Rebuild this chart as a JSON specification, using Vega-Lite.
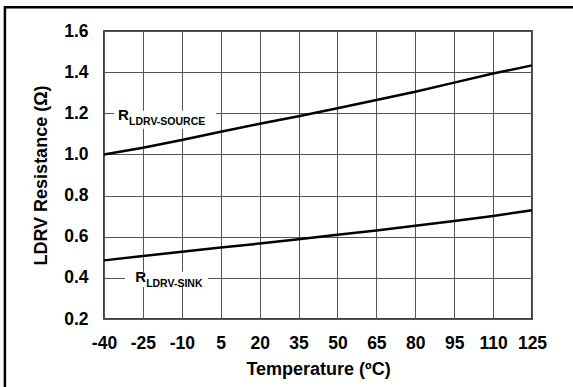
{
  "$schema": "https://vega.github.io/schema/vega-lite/v6.json",
  "autosize": {"type": "none"},
  "width": 428,
  "height": 288,
  "padding": {"left": 104, "top": 31, "right": 41, "bottom": 68},
  "background": "white",
  "config": {
    "view": {"stroke": "black", "strokeWidth": 1.5},
    "font": "Liberation Sans",
    "axis": {
      "labelFont": "Liberation Sans",
      "labelFontWeight": "bold",
      "labelFontSize": 17.5,
      "labelColor": "black",
      "titleFont": "Liberation Sans",
      "titleFontWeight": "bold",
      "titleFontSize": 18,
      "titleColor": "black",
      "grid": true,
      "gridColor": "#555555",
      "gridWidth": 1,
      "gridOpacity": 1,
      "domain": false,
      "ticks": false,
      "tickSize": 0,
      "labelOverlap": false,
      "labelBound": false,
      "labelFlush": false
    }
  },
  "datasets": {
    "curves": [
      {"series": "source", "temp": -40, "r": 1.0},
      {"series": "source", "temp": -25, "r": 1.032},
      {"series": "source", "temp": -10, "r": 1.07},
      {"series": "source", "temp": 5, "r": 1.11},
      {"series": "source", "temp": 20, "r": 1.149},
      {"series": "source", "temp": 35, "r": 1.186},
      {"series": "source", "temp": 50, "r": 1.224},
      {"series": "source", "temp": 65, "r": 1.265},
      {"series": "source", "temp": 80, "r": 1.305},
      {"series": "source", "temp": 95, "r": 1.349},
      {"series": "source", "temp": 110, "r": 1.393},
      {"series": "source", "temp": 125, "r": 1.433},
      {"series": "sink", "temp": -40, "r": 0.485},
      {"series": "sink", "temp": -25, "r": 0.506},
      {"series": "sink", "temp": -10, "r": 0.527},
      {"series": "sink", "temp": 5, "r": 0.547},
      {"series": "sink", "temp": 20, "r": 0.567},
      {"series": "sink", "temp": 35, "r": 0.588},
      {"series": "sink", "temp": 50, "r": 0.609},
      {"series": "sink", "temp": 65, "r": 0.630},
      {"series": "sink", "temp": 80, "r": 0.653},
      {"series": "sink", "temp": 95, "r": 0.676},
      {"series": "sink", "temp": 110, "r": 0.701},
      {"series": "sink", "temp": 125, "r": 0.729}
    ],
    "labels": [
      {"main": "R", "sub": "LDRV-SOURCE", "temp": -34.6, "r": 1.167, "t1": -36.1, "t2": 3.2, "r1": 1.212, "r2": 1.125},
      {"main": "R", "sub": "LDRV-SINK", "temp": -28.0, "r": 0.381, "t1": -31.9, "t2": 0.1, "r1": 0.43, "r2": 0.355}
    ]
  },
  "layer": [
    {
      "data": {"name": "labels"},
      "mark": {"type": "rect", "fill": "white", "stroke": null},
      "encoding": {
        "x": {"field": "t1", "type": "quantitative", "scale": {"domain": [-40, 125], "nice": false, "zero": false},
          "axis": {"values": [-40, -25, -10, 5, 20, 35, 50, 65, 80, 95, 110, 125], "tickCount": 24, "labelExpr": "toString(datum.value)", "title": "Temperature (ºC)", "labelPadding": 15, "titlePadding": 9}},
        "x2": {"field": "t2"},
        "y": {"field": "r1", "type": "quantitative", "scale": {"domain": [0.2, 1.6], "nice": false, "zero": false},
          "axis": {"values": [0.2, 0.4, 0.6, 0.8, 1.0, 1.2, 1.4, 1.6], "tickCount": 16, "format": ".1f", "title": "LDRV Resistance (Ω)", "labelPadding": 16, "titlePadding": 13}},
        "y2": {"field": "r2"}
      }
    },
    {
      "data": {"name": "curves"},
      "mark": {"type": "line", "color": "black", "strokeWidth": 2.5},
      "encoding": {
        "x": {"field": "temp", "type": "quantitative"},
        "y": {"field": "r", "type": "quantitative"},
        "detail": {"field": "series"}
      }
    },
    {
      "data": {"name": "labels"},
      "mark": {"type": "text", "align": "left", "baseline": "alphabetic", "fontSize": 15, "fontWeight": "bold", "font": "Liberation Sans", "color": "black"},
      "encoding": {
        "x": {"field": "temp", "type": "quantitative"},
        "y": {"field": "r", "type": "quantitative"},
        "text": {"field": "main"}
      }
    },
    {
      "data": {"name": "labels"},
      "mark": {"type": "text", "align": "left", "baseline": "alphabetic", "fontSize": 10.5, "fontWeight": "bold", "font": "Liberation Sans", "color": "black", "dx": 11, "dy": 5},
      "encoding": {
        "x": {"field": "temp", "type": "quantitative"},
        "y": {"field": "r", "type": "quantitative"},
        "text": {"field": "sub"}
      }
    },
    {
      "data": {"values": [{}]},
      "mark": {"type": "rect", "fill": null, "filled": false, "stroke": "black", "strokeWidth": 2.5, "clip": false},
      "encoding": {
        "x": {"datum": -78.2, "type": "quantitative"},
        "x2": {"datum": 170},
        "y": {"datum": 1.716, "type": "quantitative"},
        "y2": {"datum": -0.4}
      }
    }
  ]
}
